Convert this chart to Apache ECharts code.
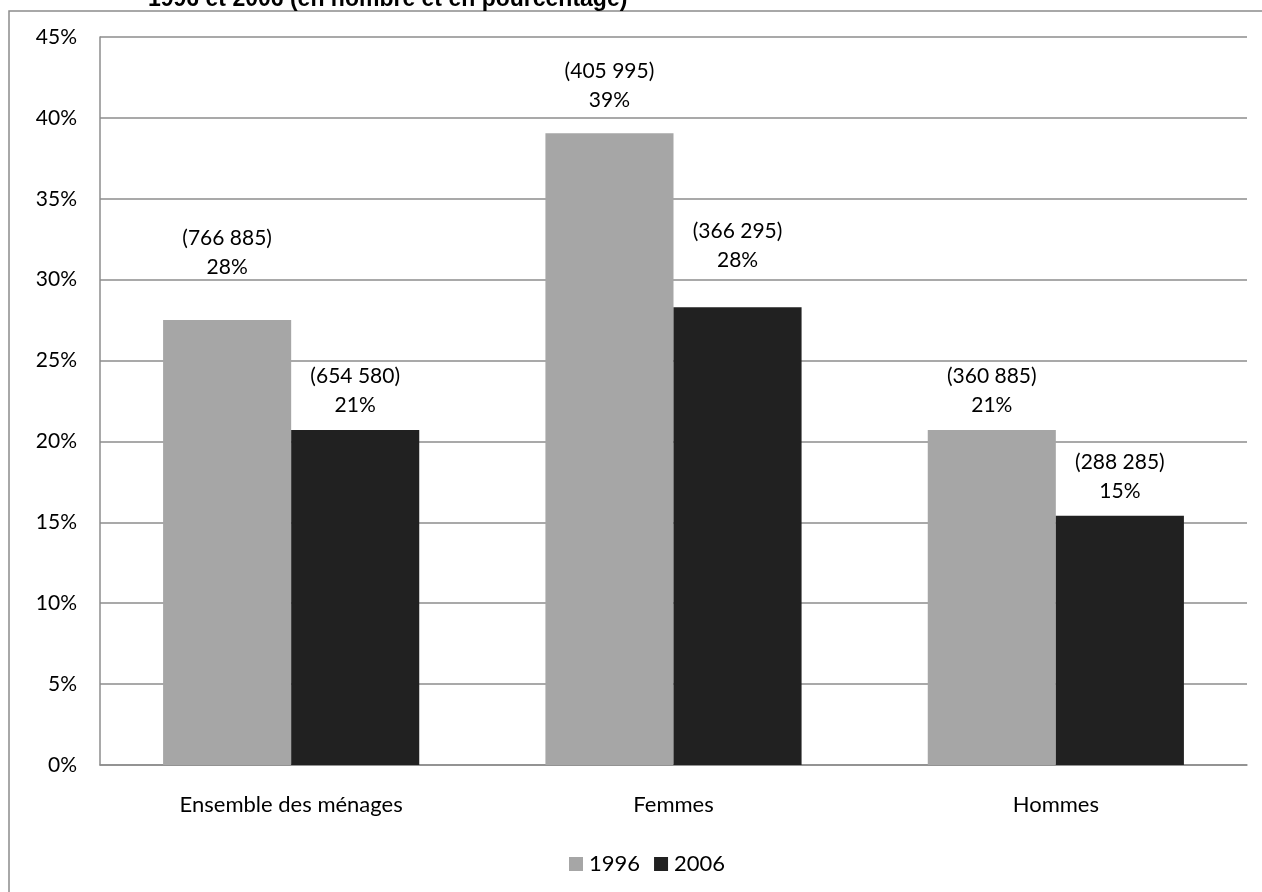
<!DOCTYPE html>
<html>
<head>
<meta charset="utf-8">
<script src="https://cdn.jsdelivr.net/npm/echarts@6/dist/echarts.min.js"></script>
<style>html,body{margin:0;padding:0;background:#fff;}#chart{width:1262px;height:892px;}</style>
</head>
<body>
<div id="chart"></div>
<script>
const categories = ['Ensemble des ménages', 'Femmes', 'Hommes'];
const seriesNames = ['1996', '2006'];
const pct1996 = [27.5, 39.05, 20.7];
const pct2006 = [20.7, 28.3, 15.4];
const count1996 = ['766 885', '405 995', '360 885'];
const count2006 = ['654 580', '366 295', '288 285'];
const labelDist1996 = [38, 19, 10];
const labelDist2006 = [10, 32, 10];
const yTicks = [0, 5, 10, 15, 20, 25, 30, 35, 40, 45];
const titleText = '1996 et 2006 (en nombre et en pourcentage)';

const FONT = 'Lato';

function makeData(vals, counts, dists) {
  return vals.map((v, i) => ({
    value: v,
    label: {
      distance: dists[i],
      formatter: '(' + counts[i] + ')\n' + Math.round(v) + '%'
    }
  }));
}

const labelStyle = {
  show: true,
  position: 'top',
  fontFamily: FONT,
  fontSize: 21,
  lineHeight: 29,
  color: '#000'
};

const chart = echarts.init(document.getElementById('chart'), null, {renderer: 'canvas'});
chart.setOption({
  backgroundColor: '#fff',
  animation: false,
  graphic: [
    {
      type: 'rect',
      shape: {x: 9, y: 11, width: 1400, height: 1000},
      style: {fill: 'none', stroke: '#8c8c8c', lineWidth: 1.5},
      z: -1
    },
    {
      type: 'text',
      x: 148,
      y: 11,
      style: {
        text: titleText,
        fontFamily: 'Liberation Sans',
        fontWeight: 'bold',
        fontSize: 23,
        fill: '#000',
        verticalAlign: 'bottom'
      }
    }
  ],
  grid: {left: 100, right: 15, top: 37, bottom: 127, containLabel: false},
  legend: {
    data: seriesNames,
    bottom: 12,
    left: 564,
    itemWidth: 14,
    itemHeight: 14,
    itemGap: 14,
    icon: 'rect',
    textStyle: {fontFamily: FONT, fontSize: 22, color: '#000', padding: [0, 0, 0, 1]}
  },
  xAxis: {
    type: 'category',
    data: categories,
    axisLine: {show: true, lineStyle: {color: '#8c8c8c', width: 1.5}},
    axisTick: {show: false},
    axisLabel: {fontFamily: FONT, fontSize: 22, color: '#000', margin: 29}
  },
  yAxis: {
    type: 'value',
    min: 0,
    max: 45,
    interval: 5,
    axisLine: {show: true, lineStyle: {color: '#8c8c8c', width: 1.5}},
    axisTick: {show: false},
    splitLine: {show: true, lineStyle: {color: '#8c8c8c', width: 1.5}},
    axisLabel: {
      fontFamily: FONT, fontSize: 21, color: '#000', margin: 23,
      formatter: v => yTicks.includes(v) ? v + '%' : ''
    }
  },
  series: [
    {
      name: seriesNames[0],
      type: 'bar',
      data: makeData(pct1996, count1996, labelDist1996),
      itemStyle: {color: '#a6a6a6'},
      barGap: '0%',
      barCategoryGap: '33%',
      label: labelStyle
    },
    {
      name: seriesNames[1],
      type: 'bar',
      data: makeData(pct2006, count2006, labelDist2006),
      itemStyle: {color: '#212121'},
      barGap: '0%',
      barCategoryGap: '33%',
      label: labelStyle
    }
  ]
});
</script>
</body>
</html>
